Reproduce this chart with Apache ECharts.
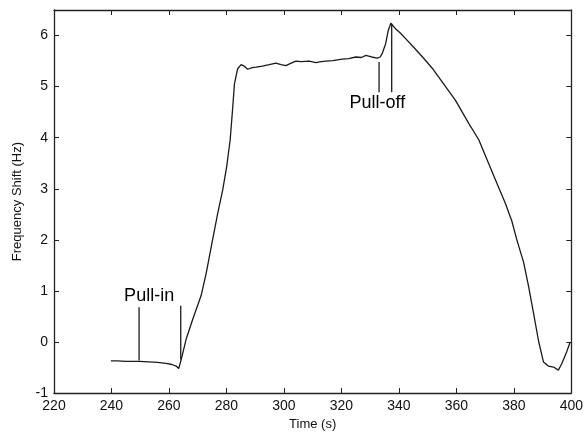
<!DOCTYPE html>
<html>
<head>
<meta charset="utf-8">
<script src="https://cdn.jsdelivr.net/npm/echarts@6/dist/echarts.min.js"></script>
<style>html,body{margin:0;padding:0;background:#fff}#c{width:586px;height:436px}</style>
</head>
<body>
<div id="c"></div>
<script>
const timeS = [239.8,242,245,249.6,253,256,259,261,262.5,263.4,264.5,266.0,268.3,271.2,273.0,275.0,277.0,278.7,280.1,281.3,282.2,282.8,283.9,285.1,286.2,287.4,289,290.3,292.5,294.9,297.2,299,300.7,302.5,304.2,306,308.8,311.1,313,314.6,317,320.3,322.5,325.0,327,328.5,330.5,332.5,333.5,334.2,335.4,336.3,337.2,338.9,340.5,342.5,345,348.7,351.6,355,359.7,364.3,367.8,371.2,374.1,377,379.3,381,383.4,385.1,386.8,388.6,390.3,392,393.8,395.5,396.7,398.4,399.6];
const freqHz = [-0.37,-0.37,-0.38,-0.38,-0.39,-0.40,-0.42,-0.44,-0.47,-0.52,-0.29,0.06,0.45,0.91,1.36,1.95,2.53,2.98,3.44,3.96,4.60,5.06,5.35,5.43,5.40,5.34,5.37,5.38,5.40,5.43,5.46,5.43,5.41,5.46,5.50,5.49,5.50,5.47,5.49,5.50,5.51,5.54,5.55,5.58,5.57,5.61,5.58,5.56,5.58,5.65,5.84,6.10,6.24,6.13,6.05,5.93,5.78,5.55,5.36,5.10,4.73,4.28,3.96,3.50,3.11,2.72,2.37,2.01,1.56,1.10,0.58,0.02,-0.39,-0.47,-0.49,-0.55,-0.42,-0.19,0.0];
const xTicks = [220,240,260,280,300,320,340,360,380,400];
const yTicks = [-1,0,1,2,3,4,5,6];
const markerLines = [
  [[249.6,-0.36],[249.6,0.68]],
  [[264.1,-0.34],[264.1,0.71]],
  [[333.1,4.89],[333.1,5.48]],
  [[337.5,4.89],[337.5,6.23]]
];
const annotations = [
  {name:'Pull-in', t:253.1, v:0.90},
  {name:'Pull-off', t:332.5, v:4.67}
];

const chart = echarts.init(document.getElementById('c'), null, {renderer:'canvas'});
const axisColor = '#222';
const font = 'Liberation Sans, Arial, sans-serif';
const series = [{
  type:'line', data: timeS.map((t,i)=>[t,freqHz[i]]), showSymbol:false, symbol:'none',
  lineStyle:{color:'#1a1a1a', width:1.3}, animation:false
}];
markerLines.forEach(seg=>{
  series.push({type:'line', data:seg, showSymbol:false, symbol:'none', lineStyle:{color:'#1a1a1a', width:1.3}, animation:false});
});
series.push({
  type:'scatter', symbolSize:0, animation:false, silent:true,
  itemStyle:{opacity:1},
  data: annotations.map(a=>({name:a.name, value:[a.t,a.v]})),
  label:{show:true, position:'inside', formatter:p=>p.name, color:'#000', opacity:1, fontSize:18, fontFamily:font}
});
const xCommon = {type:'value', min:220, max:400, interval:20,
  axisLine:{show:true, onZero:false, lineStyle:{color:axisColor, width:1.3}},
  axisTick:{show:true, inside:true, length:5, lineStyle:{color:axisColor}},
  splitLine:{show:false}};
const yCommon = {type:'value', min:-1, max:6.5, interval:1,
  axisLine:{show:true, onZero:false, lineStyle:{color:axisColor, width:1.3}},
  axisTick:{show:true, inside:true, length:5, lineStyle:{color:axisColor}},
  splitLine:{show:false}};
chart.setOption({
  backgroundColor:'#fff',
  animation:false,
  grid:{left:54, right:13, top:10, bottom:41, containLabel:false},
  xAxis:[
    Object.assign({}, xCommon, {position:'bottom', name:'Time (s)', nameLocation:'middle', nameGap:24,
      nameTextStyle:{fontSize:13, color:'#111', fontFamily:font},
      axisLabel:{show:true, margin:6, fontSize:14, color:'#111', fontFamily:font,
        formatter:v=> xTicks.includes(v) ? String(v) : ''}}),
    Object.assign({}, xCommon, {position:'top', axisLabel:{show:false}})
  ],
  yAxis:[
    Object.assign({}, yCommon, {position:'left', name:'Frequency Shift (Hz)', nameLocation:'middle', nameGap:30,
      nameTextStyle:{fontSize:13, color:'#111', fontFamily:font},
      axisLabel:{show:true, margin:6, fontSize:14, color:'#111', fontFamily:font, showMaxLabel:false,
        formatter:v=> yTicks.includes(v) ? String(v) : ''}}),
    Object.assign({}, yCommon, {position:'right', axisLabel:{show:false}})
  ],
  series: series
});
</script>
</body>
</html>
